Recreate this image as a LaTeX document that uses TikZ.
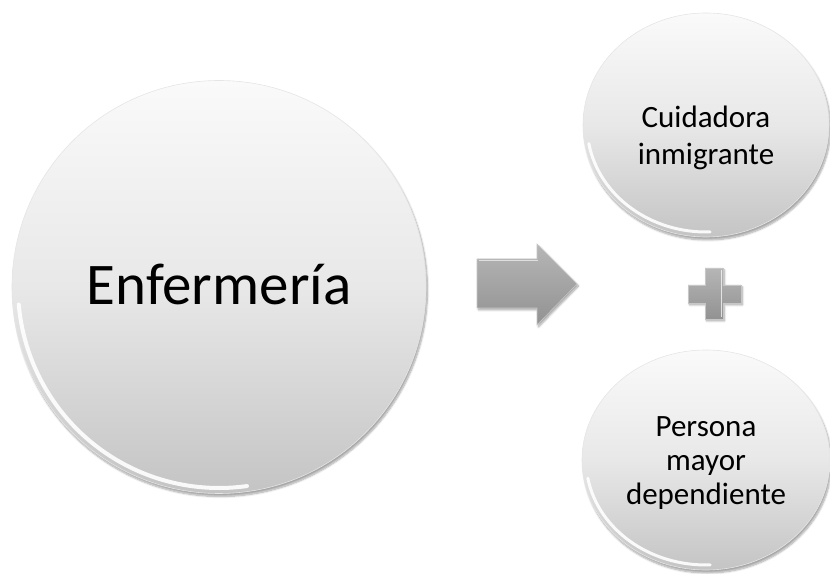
\documentclass[tikz,border=0pt]{standalone}
\usepackage{fontspec}
\setmainfont{Carlito}
\usetikzlibrary{shapes.geometric,shadows.blur}
\definecolor{bubtop}{RGB}{250,250,250}
\definecolor{bubmid}{RGB}{232,232,232}
\definecolor{bubbot}{RGB}{196,196,196}
\definecolor{shapetop}{RGB}{182,182,182}
\definecolor{shapebot}{RGB}{146,146,146}
\tikzset{
  bubble/.style={ellipse, inner sep=0pt,
    top color=bubtop, bottom color=bubbot, middle color=bubmid,
    draw=white!90!black, line width=0.6pt,
    blur shadow={shadow xshift=1.5pt, shadow yshift=-3pt, shadow opacity=35, shadow blur steps=8}},
  label text/.style={align=center, text=black, inner sep=0pt},
  rim/.style={white, line width=4pt, line cap=round, opacity=0.9},
  bevel/.style={top color=shapetop, bottom color=shapebot, draw=black!22, line width=0.6pt,
    blur shadow={shadow xshift=1.5pt, shadow yshift=-2pt, shadow opacity=35, shadow blur steps=6}},
}
\begin{document}
\begin{tikzpicture}[x=1pt,y=1pt]
\useasboundingbox (0,0) rectangle (830,573);
% big circle
\node[bubble, minimum width=414pt, minimum height=413pt] (enf) at (219,286) {};
\node[label text, font=\fontsize{59}{70}\selectfont] (enft) at ([yshift=3pt]enf.center) {Enfermería};
\draw[rim] ([shift={(185:201pt)}]enf.center) arc[start angle=185, end angle=278, radius=201pt];
% top ellipse
\node[bubble, minimum width=246pt, minimum height=224pt] (cui) at (706,448) {};
\node[label text, font=\fontsize{31}{37}\selectfont] (cuit) at ([yshift=-13pt]cui.center) {Cuidadora\\inmigrante};
\draw[rim, line width=3pt] ([shift={(190:119pt and 107pt)}]cui.center)
  arc[start angle=190, end angle=272, x radius=119pt, y radius=107pt];
% bottom ellipse
\node[bubble, minimum width=248pt, minimum height=220pt] (per) at (706,113) {};
\node[label text, font=\fontsize{31}{34}\selectfont] (pert) at ([yshift=-3pt]per.center) {Persona\\mayor\\dependiente};
\draw[rim, line width=3pt] ([shift={(190:120pt and 105pt)}]per.center)
  arc[start angle=190, end angle=272, x radius=120pt, y radius=105pt];
% arrow
\coordinate (arr) at (527,289);
\path[bevel] ([shift={(-50,-24)}]arr) -- ([shift={(10,-24)}]arr) -- ([shift={(10,-41)}]arr)
  -- ([shift={(50,0)}]arr) -- ([shift={(10,40)}]arr) -- ([shift={(10,25)}]arr)
  -- ([shift={(-50,25)}]arr) -- cycle;
\draw[white, opacity=0.6, line width=1pt] ([shift={(-48,23)}]arr) -- ([shift={(11,23)}]arr);
% plus
\coordinate (plus) at (714,279);
\path[bevel] ([shift={(-9,26)}]plus) -- ([shift={(9,26)}]plus) -- ([shift={(9,9)}]plus)
  -- ([shift={(27,9)}]plus) -- ([shift={(27,-9)}]plus) -- ([shift={(9,-9)}]plus)
  -- ([shift={(9,-25)}]plus) -- ([shift={(-9,-25)}]plus) -- ([shift={(-9,-9)}]plus)
  -- ([shift={(-26,-9)}]plus) -- ([shift={(-26,9)}]plus) -- ([shift={(-9,9)}]plus) -- cycle;
\draw[white, opacity=0.7, line width=0.8pt] ([shift={(7,24)}]plus) -- ([shift={(7,-23)}]plus);
\end{tikzpicture}
\end{document}
